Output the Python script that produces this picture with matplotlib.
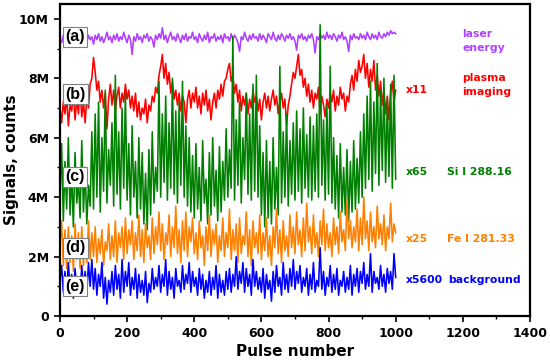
import numpy as np
import matplotlib
matplotlib.use("Agg")
import matplotlib.pyplot as plt
from matplotlib.ticker import FuncFormatter, MultipleLocator

plt.rcParams['font.family'] = ['DejaVu Sans']
plt.rcParams['font.weight'] = 'bold'

# Signals in millions of counts, sampled every 5 pulses (0..1000)
laser_energy = [
    9.35,9.2,9.45,9.3,9.4,9.25,9.5,9.3,9.35,9.2,9.45,9.3,9.4,9.25,9.5,9.35,9.2,9.45,9.3,9.4,
    9.15,9.45,9.3,9.5,9.25,9.4,9.2,9.35,9.55,9.3,9.4,9.2,9.45,9.3,9.5,9.25,9.4,9.3,9.55,9.35,
    9.2,9.45,9.3,8.8,9.4,9.25,9.5,9.3,9.4,9.2,9.45,9.35,9.5,9.25,9.4,9.3,9.05,9.45,9.3,9.5,
    9.35,9.7,9.3,9.45,9.2,9.4,9.55,9.3,9.4,9.25,9.5,9.35,9.2,9.45,9.3,9.5,9.25,9.4,9.35,9.55,
    9.3,9.4,9.2,9.5,9.35,9.25,9.45,9.3,9.55,9.2,9.4,9.35,9.5,9.25,9.4,9.3,9.45,9.2,9.5,9.35,
    9.4,9.25,9.5,9.3,9.45,9.35,9.2,8.9,9.4,9.3,9.55,9.35,9.25,9.45,9.3,9.5,9.35,9.4,9.25,9.5,
    9.3,9.45,9.35,9.2,9.5,9.4,9.3,9.55,9.35,9.25,9.45,9.3,9.5,9.4,9.25,9.45,9.35,9.5,9.3,9.4,
    9.25,8.95,9.45,9.35,9.5,9.3,9.4,9.25,9.45,9.35,9.5,9.3,8.85,9.4,9.3,9.5,9.35,9.45,9.3,9.55,
    9.35,9.45,9.3,9.5,9.4,9.25,9.45,9.35,9.55,9.3,9.4,9.25,8.9,9.45,9.3,9.5,9.35,9.4,9.3,9.5,
    9.35,9.45,9.3,9.55,9.4,9.3,9.5,9.35,9.45,9.3,9.55,9.4,9.35,9.5,9.4,9.55,9.45,9.6,9.5,9.55,9.5]

plasma_imaging = [
    7.0,6.5,7.2,6.8,7.4,6.4,7.1,6.9,7.5,6.6,7.3,6.8,7.6,6.7,7.2,6.5,7.4,7.0,7.8,8.0,
    8.7,8.2,7.6,7.9,7.2,7.6,7.0,7.5,6.3,7.3,7.8,7.1,7.6,6.9,7.4,7.7,7.0,7.5,7.2,7.8,
    7.3,7.6,7.0,7.4,6.9,7.5,6.7,7.2,6.6,7.0,6.8,7.3,6.5,7.1,6.9,7.4,7.2,7.7,7.5,8.1,
    8.4,8.8,8.0,8.5,7.8,8.2,7.5,7.9,7.3,7.6,7.1,7.5,6.9,7.4,7.2,6.5,7.3,7.6,7.0,7.5,
    7.2,7.7,7.0,7.4,6.8,7.5,7.1,7.6,6.9,7.3,6.6,7.2,7.5,7.0,7.6,7.3,7.8,7.4,7.9,8.0,
    8.3,8.5,7.9,8.1,7.5,7.8,7.2,7.6,6.9,7.4,7.1,7.5,6.8,7.3,7.0,7.6,7.2,7.4,6.9,7.3,
    6.6,7.2,7.5,7.0,7.4,6.9,7.3,7.6,7.1,7.4,6.8,7.2,7.5,7.0,7.3,6.4,7.1,7.4,7.8,8.2,
    8.0,8.4,8.8,8.1,8.3,7.7,8.0,7.4,7.8,7.2,7.6,7.0,7.5,7.3,7.7,6.8,7.4,7.1,6.7,7.3,
    7.0,7.5,7.2,7.6,6.9,7.4,7.1,7.7,7.3,7.5,6.9,7.4,7.2,7.8,8.1,7.6,8.3,7.9,8.6,8.2,
    8.4,8.8,8.0,8.5,7.7,8.3,7.9,8.6,7.6,8.1,7.4,7.9,7.1,7.6,6.8,7.4,6.6,7.5,7.9,7.2,7.6]

si_288 = [
    4.0,5.8,3.2,5.2,3.6,6.0,3.4,4.8,3.0,5.5,3.8,4.6,3.3,5.9,3.5,5.0,3.1,4.4,3.7,6.2,
    3.6,6.8,4.0,7.2,3.5,6.0,4.2,7.6,3.8,5.6,4.4,6.5,3.7,8.1,4.1,6.2,3.6,7.0,4.3,7.5,
    3.9,5.8,3.4,6.4,4.0,5.2,3.3,6.0,3.6,5.5,3.1,4.8,2.9,5.6,3.4,6.2,3.8,5.0,4.2,7.9,
    4.0,6.8,4.5,7.4,3.9,6.5,4.3,8.0,4.1,6.9,3.8,7.2,4.4,7.9,4.0,6.4,3.7,6.0,3.5,5.4,
    3.3,5.8,3.6,5.0,3.2,5.9,3.8,4.6,3.1,5.5,3.4,6.0,3.7,4.9,3.2,5.7,3.5,5.2,3.9,6.3,
    4.0,5.6,4.3,9.4,3.9,6.6,4.4,7.2,3.8,6.0,4.6,7.5,4.1,6.8,3.9,7.8,4.2,8.1,4.0,6.4,
    3.4,5.5,3.0,5.9,3.3,5.2,3.1,6.0,3.6,5.0,3.4,8.4,3.8,6.2,4.0,6.8,3.7,5.9,4.1,6.5,
    3.9,6.9,4.2,6.3,3.8,7.0,4.3,6.1,4.0,6.7,3.9,6.4,4.2,6.8,4.0,9.8,4.4,6.6,3.9,7.1,
    4.1,8.4,3.8,6.0,3.6,5.4,3.3,5.8,3.5,5.0,3.4,5.6,3.2,5.2,3.5,5.9,3.6,5.3,3.8,6.2,
    4.0,6.8,4.3,7.4,4.6,7.9,4.2,7.2,4.8,8.5,4.4,7.6,4.9,8.0,4.5,7.3,4.7,7.8,4.3,8.1,4.6]

fe_281 = [
    2.4,3.2,1.7,2.9,1.6,3.0,1.8,2.7,1.5,3.1,1.9,2.8,1.6,3.0,1.7,2.6,1.8,3.2,1.9,2.8,
    2.0,3.0,1.8,2.6,2.1,2.9,1.7,2.5,2.2,3.1,1.9,2.7,2.0,3.2,1.8,2.8,2.3,3.0,1.9,3.3,
    2.1,2.9,2.4,3.2,1.9,2.8,2.2,3.4,2.0,2.9,1.8,3.1,2.3,2.7,1.9,3.3,2.1,3.0,2.4,3.5,
    2.2,3.1,1.9,2.8,2.4,3.4,2.0,3.0,2.3,3.7,2.1,2.9,1.8,3.2,2.2,3.5,2.0,3.0,2.5,3.3,
    2.1,2.8,1.9,3.2,2.3,2.7,1.7,3.0,2.2,3.4,2.0,2.9,2.4,3.1,1.8,2.7,2.2,3.3,2.0,2.8,
    2.3,3.6,1.9,2.9,2.2,3.1,1.8,3.3,2.1,2.7,2.4,3.5,2.0,2.9,1.7,3.2,2.3,2.8,2.1,3.4,
    1.9,2.8,2.2,3.3,2.0,2.7,1.7,3.0,2.3,3.6,2.1,2.9,1.8,3.2,2.2,2.7,2.0,3.4,2.3,3.0,
    2.1,3.5,2.4,2.9,2.0,3.3,2.2,3.8,2.5,3.0,2.1,3.4,2.3,2.8,2.0,3.2,2.4,3.6,2.2,3.1,
    2.3,2.8,2.0,3.3,2.4,3.0,2.1,3.5,2.5,2.9,2.2,3.9,2.6,3.2,2.3,3.0,2.5,3.6,2.2,3.3,
    2.4,4.0,2.6,3.2,2.2,3.5,2.5,3.0,2.3,3.7,2.6,3.1,2.4,3.4,2.2,3.0,2.6,3.8,2.5,3.1,2.8]

background = [
    1.2,1.7,0.8,1.5,0.7,1.8,0.9,1.4,0.6,1.6,0.8,1.3,0.7,1.7,0.9,1.5,0.8,1.8,1.0,1.9,
    0.9,1.6,0.7,1.4,1.0,1.8,0.6,1.3,0.4,1.2,0.8,1.5,0.7,1.7,0.9,1.4,0.6,1.9,0.8,1.5,
    1.0,1.8,0.7,1.3,0.9,1.6,0.6,1.4,0.8,1.2,0.7,1.5,0.45,1.1,0.8,1.6,0.9,1.3,1.0,1.7,
    0.8,1.4,1.0,1.9,0.7,1.5,0.9,1.3,0.6,1.6,1.0,1.2,0.8,1.7,0.9,1.4,1.1,1.8,0.8,1.5,
    1.0,1.3,0.7,1.6,0.9,1.4,0.6,1.2,0.8,1.5,0.7,1.3,0.9,1.7,0.6,1.4,0.8,1.2,0.7,1.5,
    0.9,1.6,0.8,1.4,1.0,2.0,0.9,1.5,1.1,1.8,0.8,1.6,1.0,1.4,0.7,1.9,1.0,1.5,0.9,1.3,
    0.8,1.6,0.6,1.4,0.9,1.2,0.5,1.5,0.8,1.7,1.0,1.3,0.7,1.8,0.9,1.4,0.8,1.6,1.0,1.9,
    0.9,1.5,1.1,1.7,0.8,1.3,1.0,1.6,0.7,1.4,0.9,1.8,0.8,1.2,1.0,2.3,0.9,1.5,0.7,1.3,
    1.0,1.7,0.8,1.4,0.9,1.6,0.7,1.2,1.0,1.5,0.8,1.3,0.9,1.7,0.7,1.4,1.0,1.6,0.8,1.5,
    1.1,1.8,0.9,1.4,1.0,2.1,0.8,1.5,1.1,1.3,0.9,1.7,1.0,1.4,0.8,1.6,1.1,1.5,0.9,2.1,1.3]

series_list = [laser_energy, plasma_imaging, si_288, fe_281, background]
colors = ['#B040FF', '#FF0000', '#008000', '#FF8000', '#0000FF']
box_labels = ['(a)', '(b)', '(c)', '(d)', '(e)']
box_y = [9.4, 7.46, 4.68, 2.29, 1.01]   # M counts
factors = [None, 'x11', 'x65', 'x25', 'x5600']
factor_y = [None, 7.61, 4.85, 2.59, 1.21]
names = ['laser\nenergy', 'plasma\nimaging', 'Si I 288.16', 'Fe I 281.33', 'background']
name_y = [9.26, 7.78, 4.85, 2.59, 1.21]

fig = plt.figure(figsize=(5.5, 3.62), dpi=100)
ax = fig.add_axes([0.109, 0.127, 0.8546, 0.862])

for s, c in zip(series_list, colors):
    vals = np.asarray(s) * 1e6
    x = np.arange(len(vals)) * 5
    ax.plot(x, vals, color=c, lw=1.15)

for lab, yv in zip(box_labels, box_y):
    ax.text(45, yv * 1e6, lab, ha='center', va='center', fontsize=11.5,
            fontweight='bold', zorder=10, family='Liberation Sans',
            bbox=dict(boxstyle='square,pad=0.15', fc='white', ec='#808080', lw=0.8))

for f, fy, c in zip(factors, factor_y, colors):
    if f is not None:
        ax.text(1031, fy * 1e6, f, ha='left', va='center', fontsize=7.8,
                fontweight='bold', color=c)
name_x = [1198, 1198, 1153, 1153, 1155]
for nm, nx, ny, c in zip(names, name_x, name_y, colors):
    ax.text(nx, ny * 1e6, nm, ha='left', va='center', fontsize=7.8,
            fontweight='bold', color=c, linespacing=1.45)

ax.set_xlim(0, 1400)
ax.set_ylim(0, 10.5e6)
ax.xaxis.set_major_locator(MultipleLocator(200))
ax.xaxis.set_minor_locator(MultipleLocator(100))
ax.yaxis.set_major_locator(MultipleLocator(2e6))
ax.yaxis.set_minor_locator(MultipleLocator(1e6))
ax.yaxis.set_major_formatter(FuncFormatter(lambda v, p: '0' if v == 0 else f'{v/1e6:.0f}M'))
ax.tick_params(which='major', direction='out', length=4, width=1.2, labelsize=9, pad=4)
ax.tick_params(which='minor', direction='out', length=2.5, width=1.0)
for lab in ax.get_xticklabels() + ax.get_yticklabels():
    lab.set_fontweight('bold')
for sp in ax.spines.values():
    sp.set_linewidth(1.6)

ax.set_xlabel('Pulse number', fontsize=11, fontweight='bold', labelpad=3)
ax.set_ylabel('Signals, counts', fontsize=11, fontweight='bold', labelpad=0)

fig.savefig('out.png', dpi=100)
